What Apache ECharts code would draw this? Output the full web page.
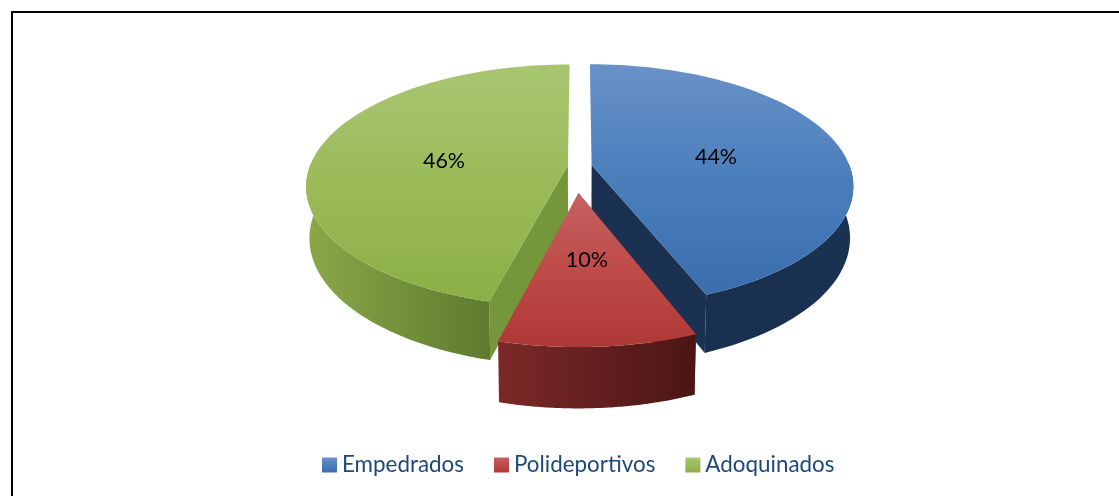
<!DOCTYPE html>
<html>
<head>
<meta charset="utf-8">
<title>Pie</title>
<style>
html, body { margin: 0; padding: 0; background: #fff; }
#chart { width: 1119px; height: 496px; }
</style>
<script src="https://cdn.jsdelivr.net/npm/echarts@6/dist/echarts.min.js"></script>
</head>
<body>
<div id="chart"></div>
<script>
// data
const categories = ['Empedrados', 'Polideportivos', 'Adoquinados'];
const shares = [44, 10, 46];

// how far each slice is pulled out of the centre, as a part of the radius
const pullX = [0.047, -0.004, -0.045];
const pullY = [-0.008, 0.22, -0.006];

// where the % label sits along the middle of each slice
const labelRadius = [0.5, 0.465, 0.49];

// the colours of each slice: top face from/mid/to, rim left/right, cut face
const topColors = [
    ['#6a91c9', '#4a7ebb', '#3b6dae'],
    ['#c46262', '#be4b48', '#ae3836'],
    ['#a9c571', '#9bbb59', '#8cae45']
];
const rimColors = [
    ['#192f4e', '#1a3252'],
    ['#7c2828', '#4a1615'],
    ['#8aa847', '#5f7a2f']
];
const cutColors = ['#1b3151', '#7c2828', '#76963c'];

// projection of the tilted pie
const centerX = 579.5;
const centerY = 166;
const radiusX = 258;
const radiusY = 118;
const perspective = 0.168;
const thickness = 50.5;
const bottomScale = 0.988;

const total = shares.reduce((a, b) => a + b, 0);

// angle where slice i starts, clockwise from twelve o'clock
function startAngle(i) {
    let sum = 0;
    for (let k = 0; k < i; k++) {
        sum += shares[k];
    }
    return sum / total * Math.PI * 2;
}

// ground position (unit circle) to screen position
function project(u, v, bottom) {
    let w = 1 / (1 - perspective * v);
    if (bottom) {
        return [centerX + radiusX * u * w * bottomScale, centerY + (radiusY * v * bottomScale + thickness) * w];
    }
    return [centerX + radiusX * u * w, centerY + radiusY * v * w];
}

function slicePoint(i, angle, r, bottom) {
    let u = pullX[i] + Math.sin(angle) * r;
    let v = pullY[i] - Math.cos(angle) * r;
    return project(u, v, bottom);
}

// rim outline, only the part that faces the viewer
function arcPoints(i, bottom, frontOnly) {
    let from = startAngle(i);
    let to = from + shares[i] / total * Math.PI * 2;
    let points = [];
    for (let s = 0; s <= 80; s++) {
        let angle = from + (to - from) * s / 80;
        if (!frontOnly || Math.cos(angle) < 0.05) {
            points.push(slicePoint(i, angle, 1, bottom));
        }
    }
    return points;
}

function gradient(x2, y2, colors) {
    return new echarts.graphic.LinearGradient(0, 0, x2, y2, colors.map((c, n) => ({
        offset: n / (colors.length - 1),
        color: c
    })));
}

function renderSlice(i) {
    let from = startAngle(i);
    let to = from + shares[i] / total * Math.PI * 2;
    let topArc = arcPoints(i, false, false);
    let rimTop = arcPoints(i, false, true);
    let rimBottom = arcPoints(i, true, true);
    let apex = slicePoint(i, from, 0, false);
    let apexBottom = slicePoint(i, from, 0, true);
    let labelPos = slicePoint(i, (from + to) / 2, labelRadius[i], false);

    // the cut face that shows: the blue one ends on it, the green one starts on it
    let cutEdge = i === 0 ? topArc.length - 1 : 0;
    return {
        type: 'group',
        children: [
            {
                type: 'polygon',
                shape: {points: [apex, topArc[cutEdge], slicePoint(i, i === 0 ? to : from, 1, true), apexBottom]},
                style: {fill: cutColors[i]}
            },
            {
                type: 'polygon',
                shape: {points: rimTop.concat(rimBottom.slice().reverse())},
                style: {fill: gradient(1, 0, rimColors[i])}
            },
            {
                type: 'polygon',
                shape: {points: [apex].concat(topArc)},
                style: {fill: gradient(0, 1, topColors[i])}
            },
            {
                type: 'text',
                x: labelPos[0],
                y: labelPos[1] + 3,
                style: {
                    text: shares[i] + '%',
                    fill: '#000',
                    font: '21.5px Lato',
                    align: 'center',
                    verticalAlign: 'middle'
                }
            }
        ]
    };
}

let pieChart = echarts.init(document.getElementById('chart'));

let pieChartOption = {
    animation: false,
    backgroundColor: '#fff',
    legend: {
        left: 317,
        top: 449,
        icon: 'rect',
        itemWidth: 15,
        itemHeight: 15,
        itemGap: 30,
        data: categories,
        selectedMode: false,
        textStyle: {
            color: '#1f497d',
            fontFamily: 'Lato',
            fontSize: 22.4,
            padding: [1, 0, 0, 0]
        }
    },
    graphic: [
        {type: 'rect', shape: {x: 11, y: 11, width: 1108, height: 2}, style: {fill: '#000'}},
        {type: 'rect', shape: {x: 11, y: 11, width: 2, height: 485}, style: {fill: '#000'}}
    ],
    series: categories.map((name, i) => ({
        name: name,
        type: 'custom',
        coordinateSystem: 'none',
        silent: true,
        z: i === 1 ? 3 : 2,
        itemStyle: {color: gradient(0, 1, topColors[i])},
        renderItem: () => renderSlice(i),
        data: [shares[i]]
    }))
};

pieChart.setOption(pieChartOption);
</script>
</body>
</html>
